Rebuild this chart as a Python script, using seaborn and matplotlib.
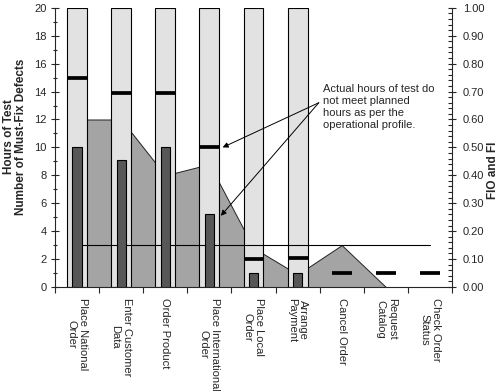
import matplotlib
matplotlib.use("Agg")
import matplotlib.pyplot as plt
import matplotlib.ticker as mticker
import numpy as np
import pandas as pd
import seaborn as sns

categories = ["Place National\nOrder", "Enter Customer\nData", "Order Product",
              "Place International\nOrder", "Place Local\nOrder", "Arrange\nPayment",
              "Cancel Order", "Request\nCatalog", "Check Order\nStatus"]
scale_bar = [20, 20, 20, 20, 20, 20, np.nan, np.nan, np.nan]
actual_hours = [10, 9.1, 10, 5.2, 1, 1, np.nan, np.nan, np.nan]
planned_hours = [15, 13.9, 13.9, 10, 2, 2.1, 1, 1, 1]
fio = [0.60, 0.60, 0.40, 0.44, 0.14, 0.045, 0.15, 0.0, 0.0]
fi_objective = 0.15
note = "Actual hours of test do\nnot meet planned\nhours as per the\noperational profile."

sns.set_style("ticks")
plt.rcParams["font.family"] = ["Liberation Sans", "DejaVu Sans"]

df = pd.DataFrame({"cat": categories, "scale": scale_bar, "actual": actual_hours})

fig = plt.figure(figsize=(5, 3.91), dpi=100)
ax = fig.add_axes([0.11, 0.266, 0.794, 0.714])
ax2 = ax.twinx()
ax.set_zorder(ax2.get_zorder() + 1)
ax.patch.set_visible(False)

x = np.arange(len(categories))

# area (FIO) on the right axis, behind everything
ax2.fill_between(x, fio, 0, facecolor="#a4a4a4", edgecolor="#222222", linewidth=0.7)
ax2.set_ylim(0, 1)

# light bars
sns.barplot(data=df, x="cat", y="scale", order=categories, color="#e2e2e2",
            edgecolor="black", linewidth=0.8, width=0.45, saturation=1, ax=ax, zorder=2)
# FI objective line
ax.plot([x[0], x[-1]], [fi_objective, fi_objective], color="black", lw=0.8,
        transform=ax2.transData, zorder=3)
# actual hours
sns.barplot(data=df, x="cat", y="actual", order=categories, color="#575757",
            edgecolor="black", linewidth=0.8, width=0.21, saturation=1, ax=ax, zorder=4)
# planned hours markers
ax.hlines(planned_hours, x - 0.225, x + 0.225, color="black", linewidth=2.7, zorder=5)

ax.set_xlim(-0.5, len(categories) - 0.5)
ax.set_ylim(0, 20)
ax2.set_xlim(-0.5, len(categories) - 0.5)

# axes styling
ax.set_xticks(x)
ax.set_xticklabels(categories, rotation=270, fontsize=8, va="top", ha="center",
                   multialignment="center")
ax.set_xticks(np.arange(-0.5, len(categories), 1), minor=True)
ax.tick_params(axis="x", which="major", length=0, pad=8)
ax.tick_params(axis="x", which="minor", length=4, direction="out", width=0.8)

ax.set_yticks(np.arange(0, 21, 2))
ax.yaxis.set_minor_locator(mticker.MultipleLocator(1))
ax.tick_params(axis="y", which="major", direction="inout", length=6, width=0.8,
               labelsize=8, pad=3)
ax.tick_params(axis="y", which="minor", direction="inout", length=3, width=0.8)

ax2.set_yticks(np.arange(0, 1.01, 0.1))
ax2.yaxis.set_major_formatter(mticker.FormatStrFormatter("%.2f"))
ax2.yaxis.set_minor_locator(mticker.MultipleLocator(0.02))
ax2.tick_params(axis="y", which="major", direction="inout", length=6, width=0.8,
                labelsize=8, pad=5)
ax2.tick_params(axis="y", which="minor", direction="in", length=3, width=0.8)

for a in (ax, ax2):
    a.spines["top"].set_visible(False)
    for s in a.spines.values():
        s.set_linewidth(0.8)
ax.spines["right"].set_visible(False)
ax2.spines["left"].set_visible(False)
ax2.spines["bottom"].set_visible(False)

ax.set_xlabel("")
ax.set_ylabel("")
ax2.set_ylabel("")
fig.text(15 / 500, 1 - 137 / 391, "Hours of Test\nNumber of Must-Fix Defects",
         rotation=90, ha="center", va="center", fontsize=8.5, fontweight="bold",
         linespacing=1.1, multialignment="center")
fig.text(493 / 500, 1 - 170 / 391, "FIO and FI", rotation=90, ha="center",
         va="center", fontsize=8.5, fontweight="bold")

# annotation
ax.text(5.57, 14.55, note, va="top", ha="left", fontsize=8, linespacing=1.25, zorder=6)
arrow = dict(arrowstyle="-|>", color="black", lw=0.7, mutation_scale=8,
             shrinkA=0, shrinkB=0)
ax.annotate("", xy=(3.3, 10.0), xytext=(5.48, 13.2), arrowprops=arrow, zorder=6)
ax.annotate("", xy=(3.26, 5.1), xytext=(5.48, 13.2), arrowprops=arrow, zorder=6)

fig.savefig("out.png", dpi=100)
